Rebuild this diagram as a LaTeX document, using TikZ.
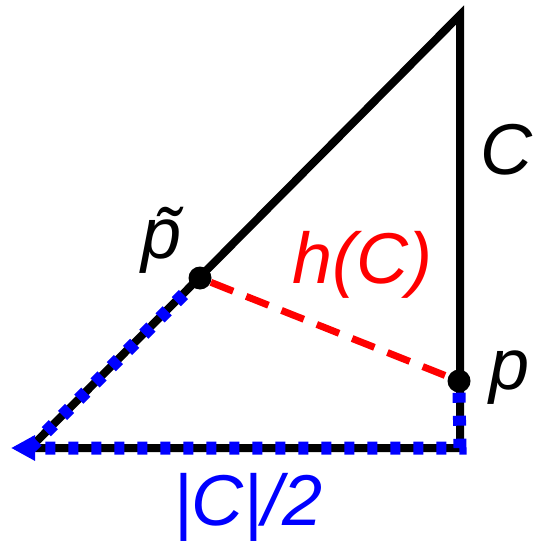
\documentclass[tikz,border=0pt]{standalone}
\usepackage{fontspec}
\setmainfont{Liberation Sans}
\usetikzlibrary{arrows.meta}
\tikzset{
  edge/.style={line width=8pt,line cap=round},
  pdot/.style={circle,fill=black,inner sep=0pt,minimum size=23pt},
  hline/.style={red,line width=7pt,dash pattern=on 24pt off 14pt},
  halfline/.style={blue,line width=13pt,dash pattern=on 10pt off 13pt},
  lbl/.style={font=\fontsize{72}{76}\selectfont\itshape,inner sep=0pt}
}
\begin{document}
\begin{tikzpicture}[x=1pt,y=-1pt]
\useasboundingbox (0,0) rectangle (534,548);
% triangle
\coordinate (bl) at (30,448);
\coordinate (br) at (460,448);
\coordinate (top) at (460,15);
\coordinate (tip) at (11,448);
\draw[edge] (bl) -- (br) -- (top) -- cycle;

\node[pdot] (pt) at (200,278) {};
\node[pdot] (p) at (459,381) {};

% distance h(C)
\draw[hline] (pt) -- (p);

% half perimeter
\draw[halfline,-{Triangle[length=24pt,width=24pt]}] (p.south) -- (br) -- (tip);
\draw[halfline] (bl) -- (pt.south west);

\node[lbl] (cl) at (506,150) {C};
\node[lbl] (ptl) at (162,240) {\~p};
\node[lbl,red] (hl) at (362,265) {h(C)};
\node[lbl] (pl) at (510,378) {p};
\node[lbl,blue] (hpl) at (248,507) {|C|/2};
\end{tikzpicture}
\end{document}
